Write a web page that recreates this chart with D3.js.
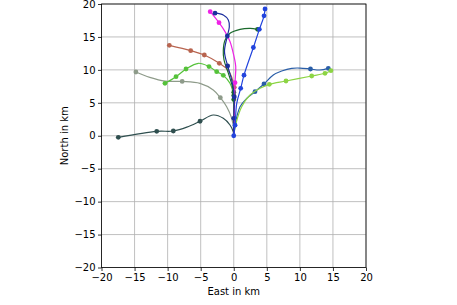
<!DOCTYPE html>
<html>
<head>
<meta charset="utf-8">
<script src="https://d3js.org/d3.v7.min.js"></script>
<style>
body { margin: 0; background: #fff; }
svg { font-family: "DejaVu Sans", sans-serif; }
.grid line { stroke: #b0b0b0; stroke-width: 0.8; }
</style>
</head>
<body>
<svg width="457" height="305"></svg>
<script>
// axis ticks (km)
var ticks = [-20, -15, -10, -5, 0, 5, 10, 15, 20];

// tracks: path = [east, north] km, marks = the dots on it
var slatePath = [[0,0],[-0.07,0.6],[-0.57,1.63],[-1.58,2.65],[-3.1,3.15],[-5.1,2.2],[-7.1,1.3],[-9.14,0.72],[-11.65,0.67],[-17.46,-0.24]];
var slateMarks = [[-5.1,2.2],[-9.14,0.72],[-11.65,0.67],[-17.46,-0.24]];

var grayPath = [[0,0],[0,0.87],[-0.31,2.65],[-1.07,4.41],[-2.03,5.78],[-3.1,6.95],[-5.1,7.96],[-7.8,8.25],[-10.4,8.3],[-12.7,8.87],[-14.8,9.68]];
var grayMarks = [[-2.03,5.78],[-7.8,8.25],[-14.8,9.68]];

var limePath = [[0,0],[0.05,3],[0,5.9],[-0.57,7.96],[-1.58,9.17],[-2.58,9.73],[-3.74,10.5],[-5.36,11.0],[-7.22,10.13],[-8.73,8.97],[-10.4,7.96]];
var limeMarks = [[-1.58,9.17],[-2.58,9.73],[-3.74,10.5],[-7.22,10.13],[-8.73,8.97],[-10.4,7.96]];

var salmonPath = [[0,0],[0.05,4],[0.08,7.35],[-0.8,9.9],[-2.18,11.0],[-4.45,12.26],[-6.51,12.92],[-9.74,13.72]];
var salmonMarks = [[0.08,7.35],[-2.18,11.0],[-4.45,12.26],[-6.51,12.92],[-9.74,13.72]];

var steelPath = [[0,0],[0.19,1.6],[0.95,4.4],[1.96,5.68],[3.21,6.69],[4.57,7.86],[5.98,9.22],[7.25,9.83],[8.76,10.24],[10.0,10.28],[11.6,10.13],[13.0,9.98],[14.3,10.23]];
var steelMarks = [[3.21,6.69],[4.57,7.86],[11.6,10.13],[14.3,10.23]];

var yellowPath = [[0,0],[0.34,1.89],[1.2,4.41],[2.46,6.19],[3.97,7.2],[5.38,7.81],[7.9,8.31],[11.79,9.07],[13.8,9.48],[14.7,9.88]];
var yellowMarks = [[5.38,7.81],[7.9,8.31],[11.79,9.07],[13.8,9.48],[14.7,9.88]];

var greenPath = [[0,0],[0,5.5],[0,6.6],[-0.82,9.5],[-1.47,11.5],[-1.58,13.0],[-1.32,14.5],[-0.57,15.55],[0.95,16.15],[2.46,16.3],[3.6,16.15]];
var greenMarks = [[0,5.5],[0,6.1],[0,6.6],[3.6,16.15]];

var magentaPath = [[0,0],[0.1,4],[0.19,8.05],[0.3,10.5],[-0.07,12.5],[-0.57,14.3],[-1.32,15.8],[-2.23,17.16],[-3.56,18.83]];
var magentaMarks = [[0.19,8.05],[-2.23,17.16],[-3.56,18.83]];

var navyPath = [[0,0],[0,2.65],[0.08,5.9],[-0.31,8.46],[-0.92,10.59],[-1.4,12.8],[-0.97,15.14],[-0.67,16.55],[-0.82,17.57],[-1.58,18.33],[-2.83,18.6]];
var navyMarks = [[0,2.65],[0.08,5.9],[-0.92,10.59],[-0.97,15.14],[-2.83,18.6]];

var bluePath = [[0,0],[0.2,1.6],[0.45,4.9],[1.05,7.2],[1.55,9.2],[2.97,13.4],[3.87,16.15],[4.58,18.2],[4.73,19.24]];
var blueMarks = [[0,0],[0.2,1.6],[1.05,7.2],[1.55,9.2],[2.97,13.4],[3.87,16.15],[4.58,18.2],[4.73,19.24]];

var tracks = [
  {path: slatePath, marks: slateMarks, color: "#2f4f4f"},
  {path: grayPath, marks: grayMarks, color: "#8e9b8a"},
  {path: limePath, marks: limeMarks, color: "#55c23a"},
  {path: salmonPath, marks: salmonMarks, color: "#b8644f"},
  {path: steelPath, marks: steelMarks, color: "#2a5ea8"},
  {path: yellowPath, marks: yellowMarks, color: "#8cd444"},
  {path: greenPath, marks: greenMarks, color: "#1b6a2c"},
  {path: magentaPath, marks: magentaMarks, color: "#ee22e6"},
  {path: navyPath, marks: navyMarks, color: "#1c2f9e"},
  {path: bluePath, marks: blueMarks, color: "#2244dd"}
];

var pLeft = 101.5, pRight = 366, pTop = 4, pBottom = 267.5;
var svg = d3.select("svg");

var x = d3.scaleLinear().domain([-20, 20]).range([pLeft, pRight]);
var y = d3.scaleLinear().domain([-20, 20]).range([pBottom, pTop]);

// grid
var grid = svg.append("g").attr("class", "grid");
grid.selectAll(".gx").data(ticks).enter().append("line")
  .attr("x1", function(d) { return x(d); }).attr("x2", function(d) { return x(d); })
  .attr("y1", pTop).attr("y2", pBottom);
grid.selectAll(".gy").data(ticks).enter().append("line")
  .attr("y1", function(d) { return y(d); }).attr("y2", function(d) { return y(d); })
  .attr("x1", pLeft).attr("x2", pRight);

svg.append("clipPath").attr("id", "clip").append("rect")
  .attr("x", pLeft).attr("y", pTop).attr("width", pRight - pLeft).attr("height", pBottom - pTop);

var line = d3.line()
  .x(function(d) { return x(d[0]); })
  .y(function(d) { return y(d[1]); })
  .curve(d3.curveCatmullRom.alpha(0.5));

var plot = svg.append("g").attr("clip-path", "url(#clip)");
tracks.forEach(function(t) {
  plot.append("path").datum(t.path)
    .attr("d", line)
    .attr("fill", "none")
    .attr("stroke", t.color)
    .attr("stroke-width", 1.2);
  plot.selectAll(null).data(t.marks).enter().append("circle")
    .attr("cx", function(d) { return x(d[0]); })
    .attr("cy", function(d) { return y(d[1]); })
    .attr("r", 2.4)
    .attr("fill", t.color);
});

// axes
var xAxis = svg.append("g").attr("transform", "translate(0," + pBottom + ")")
  .call(d3.axisBottom(x).tickValues(ticks).tickSize(3.5).tickPadding(2.5));
var yAxis = svg.append("g").attr("transform", "translate(" + pLeft + ",0)")
  .call(d3.axisLeft(y).tickValues(ticks).tickSize(3.5).tickPadding(2.5));
[xAxis, yAxis].forEach(function(a) {
  a.select(".domain").remove();
  a.selectAll("text").attr("font-size", 10).attr("font-family", "DejaVu Sans").attr("fill", "#000");
  a.selectAll("line").attr("stroke", "#000").attr("stroke-width", 0.8);
});

svg.append("rect").attr("x", pLeft).attr("y", pTop)
  .attr("width", pRight - pLeft).attr("height", pBottom - pTop)
  .attr("fill", "none").attr("stroke", "#000").attr("stroke-width", 0.8);

svg.append("text").attr("x", (pLeft + pRight) / 2).attr("y", 295)
  .attr("text-anchor", "middle").attr("font-size", 10).text("East in km");
svg.append("text").attr("transform", "translate(68," + ((pTop + pBottom) / 2) + ") rotate(-90)")
  .attr("text-anchor", "middle").attr("font-size", 10).text("North in km");
</script>
</body>
</html>
